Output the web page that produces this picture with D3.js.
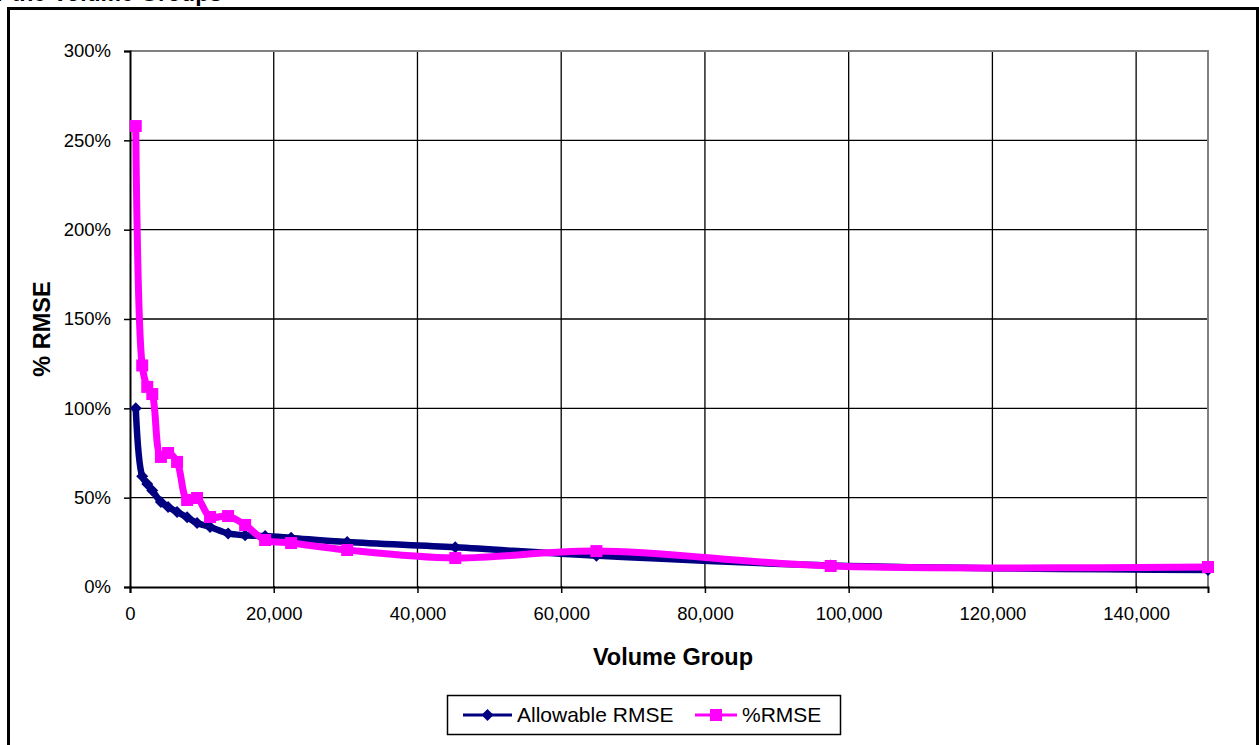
<!DOCTYPE html>
<html>
<head>
<meta charset="utf-8">
<script src="https://cdn.jsdelivr.net/npm/d3@7"></script>
<style>
  html, body { margin: 0; padding: 0; background: #fff; }
  svg { display: block; }
  text { font-family: "Liberation Sans", Arial, sans-serif; fill: #000; }
</style>
</head>
<body>
<svg id="chart" width="1259" height="745"></svg>
<script>
// Volume groups (x) shared by both series
const volumeGroups = [800, 1700, 2400, 3100, 4300, 5300, 6550, 7950, 9330, 11140,
                      13650, 16020, 18800, 22420, 30220, 45260, 64900, 97500, 150000];
// Allowable RMSE (fraction)
const allowableRmse = [1.00, 0.62, 0.576, 0.54, 0.476, 0.448, 0.42, 0.39, 0.358, 0.336,
                       0.30, 0.29, 0.285, 0.275, 0.252, 0.222, 0.175, 0.12, 0.095];
// %RMSE (fraction)
const pctRmse = [2.58, 1.24, 1.12, 1.08, 0.728, 0.75, 0.70, 0.487, 0.498, 0.392,
                 0.397, 0.347, 0.263, 0.246, 0.207, 0.162, 0.201, 0.1175, 0.112];
const seriesNames = ["Allowable RMSE", "%RMSE"];
const yTicks = [0, 0.5, 1, 1.5, 2, 2.5, 3];
const xTicks = [0, 20000, 40000, 60000, 80000, 100000, 120000, 140000];
const chartTitle = "% RMSE for the Volume Groups";
const xTitle = "Volume Group";
const yTitle = "% RMSE";

const svg = d3.select("#chart");
const plot = { left: 130, right: 1208, top: 51, bottom: 587 };

const x = d3.scaleLinear().domain([0, 150000]).range([plot.left, plot.right]);
const y = d3.scaleLinear().domain([0, 3]).range([plot.bottom, plot.top]);

const NAVY = "#000080", MAGENTA = "#FF00FF";

// Chart title, mostly above the top edge of the page
svg.append("text")
  .attr("x", 222).attr("y", 0.5)
  .attr("text-anchor", "end")
  .attr("font-size", 23).attr("font-weight", "bold")
  .text(chartTitle);

// Outer chart frame
svg.append("rect")
  .attr("x", 8.5).attr("y", 8.5)
  .attr("width", 1249).attr("height", 900)
  .attr("fill", "none").attr("stroke", "#000").attr("stroke-width", 3);

// Horizontal gridlines
svg.append("g").selectAll("line")
  .data(yTicks.filter(d => d > 0 && d < 3))
  .join("line")
  .attr("x1", plot.left).attr("x2", plot.right)
  .attr("y1", d => y(d)).attr("y2", d => y(d))
  .attr("stroke", "#000").attr("stroke-width", 1.3);

// Vertical gridlines
svg.append("g").selectAll("line")
  .data(xTicks.filter(d => d > 0))
  .join("line")
  .attr("x1", d => x(d)).attr("x2", d => x(d))
  .attr("y1", plot.top).attr("y2", plot.bottom)
  .attr("stroke", "#000").attr("stroke-width", 1.3);

// Plot area top and right edges (gray)
svg.append("path")
  .attr("d", `M${plot.left},${plot.top}H${plot.right}V${plot.bottom}`)
  .attr("fill", "none").attr("stroke", "#808080").attr("stroke-width", 2);

// Axes
const yAxis = d3.axisLeft(y).tickValues(yTicks).tickFormat(d3.format(".0%"))
  .tickSize(6).tickPadding(13);
const yAxisG = svg.append("g").attr("transform", `translate(${plot.left},0)`).call(yAxis);
const xAxis = d3.axisBottom(x).tickValues(xTicks).tickFormat(d3.format(","))
  .tickSize(6).tickPadding(14);
const xAxisG = svg.append("g").attr("transform", `translate(0,${plot.bottom})`).call(xAxis);
[yAxisG, xAxisG].forEach(g => {
  g.select(".domain").attr("stroke", "#000").attr("stroke-width", 2);
  g.selectAll(".tick line").attr("stroke", "#000").attr("stroke-width", 1.5);
  g.selectAll(".tick text").attr("font-size", 18.5)
    .attr("font-family", "'Liberation Sans', Arial, sans-serif").attr("fill", "#000");
});
// Ticks cross the axis line
yAxisG.selectAll(".tick line").attr("x2", -6).attr("x1", 0);
xAxisG.selectAll(".tick line").attr("y1", -1).attr("y2", 6);

// Axis titles
svg.append("text")
  .attr("x", (plot.left + plot.right) / 2 + 4).attr("y", 665)
  .attr("text-anchor", "middle")
  .attr("font-size", 23.5).attr("font-weight", "bold")
  .text(xTitle);
svg.append("text")
  .attr("transform", `translate(50,${(plot.top + plot.bottom) / 2 + 10}) rotate(-90)`)
  .attr("text-anchor", "middle")
  .attr("font-size", 23.5).attr("font-weight", "bold")
  .text(yTitle);

// Series
const curve = d3.curveCatmullRom.alpha(0.5);
const diamond = r => `M0,${-r}L${r},0L0,${r}L${-r},0Z`;
const square = s => `M${-s / 2},${-s / 2}h${s}v${s}h${-s}Z`;

function drawSeries(values, color, width, markerPath) {
  const pts = volumeGroups.map((v, i) => [v, values[i]]);
  svg.append("path")
    .datum(pts)
    .attr("d", d3.line().x(d => x(d[0])).y(d => y(d[1])).curve(curve))
    .attr("fill", "none").attr("stroke", color)
    .attr("stroke-width", width).attr("stroke-linejoin", "round");
  svg.append("g").selectAll("path")
    .data(pts)
    .join("path")
    .attr("transform", d => `translate(${x(d[0])},${y(d[1])})`)
    .attr("d", markerPath)
    .attr("fill", color);
}
drawSeries(allowableRmse, NAVY, 6.5, diamond(6));
drawSeries(pctRmse, MAGENTA, 7, square(12));

// Legend
const legend = svg.append("g");
legend.append("rect")
  .attr("x", 447.5).attr("y", 695.5).attr("width", 393).attr("height", 39)
  .attr("fill", "#fff").attr("stroke", "#000").attr("stroke-width", 1.5);
const legendItems = [
  { name: seriesNames[0], color: NAVY, x0: 463, x1: 512, marker: diamond(6) },
  { name: seriesNames[1], color: MAGENTA, x0: 695, x1: 737, marker: square(12) }
];
legendItems.forEach(it => {
  legend.append("line")
    .attr("x1", it.x0).attr("x2", it.x1).attr("y1", 715).attr("y2", 715)
    .attr("stroke", it.color).attr("stroke-width", 3);
  legend.append("path")
    .attr("transform", `translate(${(it.x0 + it.x1) / 2},715)`)
    .attr("d", it.marker).attr("fill", it.color);
  legend.append("text")
    .attr("x", it.x1 + 5).attr("y", 722)
    .attr("font-size", 21)
    .text(it.name);
});
</script>
</body>
</html>
